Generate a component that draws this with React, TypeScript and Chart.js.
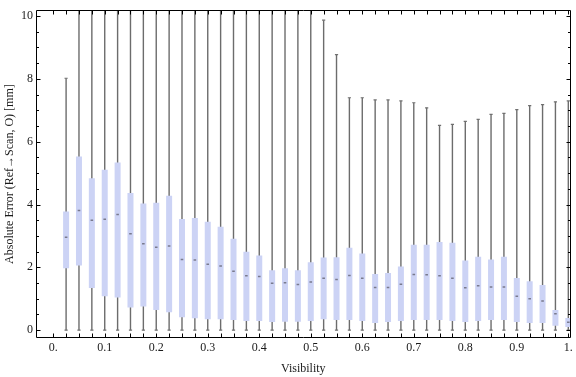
import React, { useEffect, useRef } from 'react';
import { Chart, registerables } from 'chart.js';

Chart.register(...registerables);

// ---- data ----
const visibility = [
  0.025, 0.05, 0.075, 0.1, 0.125, 0.15, 0.175, 0.2, 0.225, 0.25,
  0.275, 0.3, 0.325, 0.35, 0.375, 0.4, 0.425, 0.45, 0.475, 0.5,
  0.525, 0.55, 0.575, 0.6, 0.625, 0.65, 0.675, 0.7, 0.725, 0.75,
  0.775, 0.8, 0.825, 0.85, 0.875, 0.9, 0.925, 0.95, 0.975, 1.0,
];
const minValues = [
  0, 0, 0, 0, 0, 0, 0, 0, 0, 0,
  0, 0, 0, 0, 0, 0, 0, 0, 0, 0,
  0, 0, 0, 0, 0, 0, 0, 0, 0, 0,
  0, 0, 0, 0, 0, 0, 0, 0, 0, 0,
];
const q1Values = [
  1.97, 2.06, 1.34, 1.08, 1.04, 0.72, 0.75, 0.64, 0.57, 0.41,
  0.38, 0.35, 0.35, 0.32, 0.29, 0.29, 0.26, 0.27, 0.27, 0.29,
  0.35, 0.32, 0.32, 0.29, 0.23, 0.26, 0.29, 0.32, 0.32, 0.32,
  0.29, 0.26, 0.29, 0.32, 0.32, 0.26, 0.23, 0.23, 0.14, 0.1,
];
const medianValues = [
  2.96, 3.81, 3.5, 3.53, 3.68, 3.07, 2.75, 2.64, 2.68, 2.25,
  2.23, 2.1, 2.04, 1.875, 1.73, 1.71, 1.49, 1.51, 1.45, 1.53,
  1.65, 1.61, 1.74, 1.65, 1.36, 1.36, 1.46, 1.77, 1.76, 1.73,
  1.65, 1.35, 1.41, 1.375, 1.375, 1.08, 1.0, 0.93, 0.52, 0.25,
];
const q3Values = [
  3.78, 5.53, 4.84, 5.11, 5.34, 4.37, 4.03, 4.06, 4.28, 3.54,
  3.57, 3.45, 3.29, 2.91, 2.5, 2.375, 1.91, 1.97, 1.91, 2.16,
  2.31, 2.32, 2.625, 2.44, 1.79, 1.82, 2.03, 2.72, 2.72, 2.81,
  2.78, 2.22, 2.34, 2.25, 2.34, 1.66, 1.56, 1.44, 0.64, 0.39,
];
// values for 0.05 … 0.5 lie above the visible range (estimated)
const maxValues = [
  8.02, 13.8, 12.9, 14.2, 13.1, 12.4, 12.8, 11.9, 12.2, 11.6,
  11.8, 11.3, 11.5, 11.0, 10.9, 11.2, 10.8, 10.7, 10.9, 10.6,
  9.87, 8.77, 7.4, 7.4, 7.33, 7.33, 7.3, 7.24, 7.08, 6.52,
  6.55, 6.65, 6.71, 6.87, 6.9, 7.02, 7.15, 7.18, 7.27, 7.3,
];
const xTickValues = [0, 0.1, 0.2, 0.3, 0.4, 0.5, 0.6, 0.7, 0.8, 0.9, 1.0];
const xTickLabels = ['0.', '0.1', '0.2', '0.3', '0.4', '0.5', '0.6', '0.7', '0.8', '0.9', '1.'];
const yTickValues = [0, 2, 4, 6, 8, 10];
const yTickLabels = ['0', '2', '4', '6', '8', '10'];
const xMinorTickStep = 0.025;
const yMinorTickStep = 0.5;

const xTitle = 'Visibility';
const yTitle = 'Absolute Error (Ref\u2192Scan, O) [mm]';

const FONT = "'Liberation Serif', 'DejaVu Serif', serif";

const framePlugin = {
  id: 'mmaFrame',
  afterDraw(chart: any) {
    const { ctx, chartArea, scales } = chart;
    const xs = scales.x;
    const ys = scales.y;
    const L = Math.round(chartArea.left) + 0.5;
    const R = Math.round(chartArea.right) - 0.5;
    const T = Math.round(chartArea.top) + 0.5;
    const B = Math.round(chartArea.bottom) - 0.5;
    ctx.save();
    ctx.strokeStyle = '#000';
    ctx.lineWidth = 1;
    ctx.beginPath();
    ctx.moveTo(L, T); ctx.lineTo(R, T); ctx.lineTo(R, B); ctx.lineTo(L, B); ctx.closePath();
    const nx = Math.round(1 / xMinorTickStep);
    for (let i = 0; i <= nx; i++) {
      const px = Math.round(xs.getPixelForValue(i * xMinorTickStep)) + 0.5;
      ctx.moveTo(px, B); ctx.lineTo(px, B - 4);
      ctx.moveTo(px, T); ctx.lineTo(px, T + 4);
    }
    const ny = Math.round(10 / yMinorTickStep);
    for (let i = 0; i <= ny; i++) {
      const v = i * yMinorTickStep;
      const major = yTickValues.includes(v);
      const len = major ? 4 : 2.5;
      const py = Math.round(ys.getPixelForValue(v)) + 0.5;
      ctx.moveTo(L, py); ctx.lineTo(L + len, py);
      ctx.moveTo(R, py); ctx.lineTo(R - len, py);
    }
    ctx.stroke();
    ctx.restore();
  },
};

export default function App() {
  const ref = useRef<HTMLCanvasElement | null>(null);
  useEffect(() => {
    document.body.style.margin = '0';
    const canvas = ref.current;
    if (!canvas) return;
    const boxes = visibility.map((x, i) => ({ x, y: [q1Values[i], q3Values[i]] }));
    const whiskers = visibility.map((x, i) => ({ x, y: [minValues[i], maxValues[i]] }));
    const caps = [
      ...visibility.map((x, i) => ({ x, y: minValues[i] })),
      ...visibility.map((x, i) => ({ x, y: maxValues[i] })),
    ];
    const medians = visibility.map((x, i) => ({ x, y: medianValues[i] }));

    const chart = new Chart(canvas, {
      type: 'bar',
      data: {
        datasets: [
          {
            type: 'scatter',
            data: medians,
            pointStyle: 'line',
            pointRadius: 1.3,
            borderWidth: 1.5,
            borderColor: 'rgba(100,100,115,0.8)',
            backgroundColor: 'rgba(100,100,115,0.8)',
            order: 0,
          } as any,
          {
            type: 'bar',
            data: boxes,
            backgroundColor: 'rgb(204,211,245)',
            borderWidth: 0,
            inflateAmount: 0,
            barThickness: 6,
            grouped: false,
            order: 1,
          } as any,
          {
            type: 'scatter',
            data: caps,
            pointStyle: 'line',
            pointRadius: 1.6,
            borderWidth: 1.2,
            borderColor: '#707070',
            order: 2,
          } as any,
          {
            type: 'bar',
            data: whiskers,
            backgroundColor: '#6c6c6c',
            borderWidth: 0,
            inflateAmount: 0,
            barThickness: 1.4,
            grouped: false,
            order: 3,
          } as any,
        ],
      },
      options: {
        responsive: false,
        animation: false,
        devicePixelRatio: 1,
        layout: { padding: { top: 4, right: 3, left: 0, bottom: 0 } },
        plugins: { legend: { display: false }, tooltip: { enabled: false } },
        scales: {
          x: {
            type: 'linear',
            min: -0.03343,
            max: 1.00425,
            offset: false,
            grid: { display: false, drawTicks: false },
            border: { display: false },
            afterBuildTicks: (s: any) => {
              s.ticks = xTickValues.map((v) => ({ value: v }));
            },
            afterFit: (s: any) => { s.height = 39; },
            ticks: {
              autoSkip: false,
              maxRotation: 0,
              padding: 3,
              color: '#1a1a1a',
              font: { family: FONT, size: 12 },
              callback: (v: any) => {
                const i = xTickValues.findIndex((t) => Math.abs(t - v) < 1e-6);
                return i >= 0 ? xTickLabels[i] : '';
              },
            },
            title: {
              display: true,
              text: xTitle,
              color: '#1a1a1a',
              font: { family: FONT, size: 12 },
              padding: { top: 0, bottom: 1 },
            },
          },
          y: {
            type: 'linear',
            min: -0.25,
            max: 10.1875,
            grid: { display: false, drawTicks: false },
            border: { display: false },
            afterBuildTicks: (s: any) => {
              s.ticks = yTickValues.map((v) => ({ value: v }));
            },
            afterFit: (s: any) => { s.width = 36; },
            ticks: {
              autoSkip: false,
              padding: 3,
              color: '#1a1a1a',
              font: { family: FONT, size: 12 },
              callback: (v: any) => {
                const i = yTickValues.findIndex((t) => Math.abs(t - v) < 1e-6);
                return i >= 0 ? yTickLabels[i] : '';
              },
            },
            title: {
              display: true,
              text: yTitle,
              color: '#1a1a1a',
              font: { family: FONT, size: 12 },
              padding: { top: 3, bottom: 0 },
            },
          },
        },
      },
      plugins: [framePlugin],
    } as any);
    return () => chart.destroy();
  }, []);
  return (
    <div style={{ position: 'absolute', left: 0, top: 0, width: 576, height: 377 }}>
      <canvas ref={ref} width={576} height={377} style={{ display: 'block' }} />
    </div>
  );
}
